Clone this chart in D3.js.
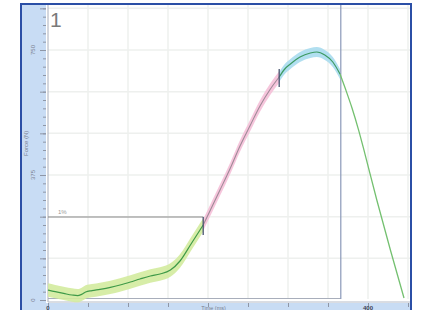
<!DOCTYPE html>
<html lang="en">
<head>
<meta charset="utf-8">
<style>
body { margin: 0; background: #fff; font-family: "Liberation Sans", Arial, sans-serif; }
svg { display: block; }
</style>
<script src="https://cdn.jsdelivr.net/npm/d3@7"></script>
</head>
<body>
<div id="chart"></div>
<script>

// force trace, split in the three phases (time in ms, force in N)
var riseTime  = [0, 9, 21, 30, 37, 42, 47, 55, 65, 78, 90, 103, 115, 128, 140, 153, 165, 178, 190, 194];
var riseForce = [30, 25, 19, 15, 13, 17, 24, 28, 32, 38, 45, 54, 63, 72, 78, 90, 117, 165, 210, 225];

var slopeTime  = [194, 203, 215, 228, 240, 253, 265, 278, 289];
var slopeForce = [225, 270, 330, 396, 462, 525, 582, 633, 669];

var peakTime  = [289, 296, 303, 315, 328, 336, 346, 356, 365];
var peakForce = [669, 693, 708, 729, 741, 744, 735, 714, 678];

var fallTime  = [365, 372, 380, 388, 396, 411, 428, 445];
var fallForce = [678, 632, 576, 512, 440, 300, 150, 6];

var riseSpread = 20, slopeSpread = 17, peakSpread = 15;
var thresholdForce = 249, thresholdLabel = "1%";
var cursorTime = 366;

var forceTicks = [0, 375, 750];
var timeTicks = [0, 400];

var width = 425, height = 310;

var svg = d3.select("#chart").append("svg")
	.attr("width", width)
	.attr("height", height);

var x = d3.scaleLinear().domain([0, 450]).range([48, 408]);
var y = d3.scaleLinear().domain([0, 750]).range([300, 50]);

// frame + side strips
svg.append("rect").attr("x", 22).attr("y", 5).attr("width", 389).attr("height", 310).attr("fill", "#fff");
svg.append("rect").attr("x", 22).attr("y", 5).attr("width", 24).attr("height", 310).attr("fill", "#c8dcf4");
svg.append("rect").attr("x", 22).attr("y", 303).attr("width", 389).attr("height", 10).attr("fill", "#c8dcf4");

// grid
svg.append("g").selectAll("line")
	.data(d3.range(50, 451, 50))
	.enter().append("line")
	.attr("x1", function(d){ return x(d); }).attr("x2", function(d){ return x(d); })
	.attr("y1", 5).attr("y2", 299)
	.attr("stroke", "#eef0ee").attr("stroke-width", 1.5);
svg.append("g").selectAll("line")
	.data(d3.range(125, 876, 125))
	.enter().append("line")
	.attr("x1", 48).attr("x2", 410)
	.attr("y1", function(d){ return y(d); }).attr("y2", function(d){ return y(d); })
	.attr("stroke", "#eef0ee").attr("stroke-width", 1.5);

// y axis ticks in the strip
svg.append("g").attr("transform", "translate(46,0)")
	.call(d3.axisLeft(y).tickValues(d3.range(0, 876, 25)).tickSize(3).tickFormat(""));
svg.append("g").attr("transform", "translate(46,0)")
	.call(d3.axisLeft(y).tickValues(d3.range(0, 876, 125)).tickSize(6).tickFormat(""));
svg.selectAll(".domain").remove();
svg.selectAll(".tick line").attr("stroke", "#8e96a6");

svg.append("g").selectAll("text")
	.data(forceTicks)
	.enter().append("text")
	.attr("transform", function(d){ return "translate(35," + y(d) + ") rotate(-90)"; })
	.attr("text-anchor", "middle")
	.style("font-size", "6px").attr("fill", "#7a8090")
	.text(function(d){ return d; });

svg.append("text")
	.attr("transform", "translate(28," + y(470) + ") rotate(-90)")
	.attr("text-anchor", "middle")
	.style("font-size", "6px").attr("fill", "#7a8090")
	.text("Force (N)");

// x axis
var xa = svg.append("g").attr("transform", "translate(0,303)")
	.call(d3.axisBottom(x).tickValues(d3.range(0, 451, 50)).tickSize(4).tickFormat(""));
xa.select(".domain").remove();
xa.selectAll(".tick line").attr("stroke", "#8e96a6");
svg.append("g").selectAll("text")
	.data(timeTicks)
	.enter().append("text")
	.attr("x", function(d){ return x(d); }).attr("y", 309.5)
	.attr("text-anchor", "middle")
	.style("font-size", "6px").style("font-weight", "bold").attr("fill", "#3a4050")
	.text(function(d){ return d; });
svg.append("text")
	.attr("x", x(207)).attr("y", 309.5)
	.attr("text-anchor", "middle")
	.style("font-size", "5.5px").attr("fill", "#7a8090")
	.text("Time (ms)");

// plot box lines
svg.append("line").attr("x1", 48).attr("x2", 48).attr("y1", 5).attr("y2", 302).attr("stroke", "#a8aebb");
svg.append("line").attr("x1", 48).attr("x2", x(cursorTime)).attr("y1", 298.5).attr("y2", 298.5).attr("stroke", "#a8aebb");
svg.append("line").attr("x1", 48).attr("x2", 411).attr("y1", 302).attr("y2", 302).attr("stroke", "#b4bac6");
svg.append("line").attr("x1", x(cursorTime)).attr("x2", x(cursorTime)).attr("y1", 5).attr("y2", 299)
	.attr("stroke", "#8a98b8").attr("stroke-width", 1.2);

// threshold
svg.append("line")
	.attr("x1", x(0)).attr("x2", x(riseTime[riseTime.length - 1]))
	.attr("y1", y(thresholdForce)).attr("y2", y(thresholdForce))
	.attr("stroke", "#8a8a8a").attr("stroke-width", 1.2);
svg.append("text")
	.attr("x", 58).attr("y", y(thresholdForce) - 3)
	.style("font-size", "6px").attr("fill", "#999")
	.text(thresholdLabel);

function pts(ts, fs) { return ts.map(function(t, i){ return { t: t, f: fs[i] }; }); }

var line = d3.line().curve(d3.curveMonotoneX)
	.x(function(d){ return x(d.t); }).y(function(d){ return y(d.f); });
function band(s) {
	return d3.area().curve(d3.curveMonotoneX)
		.x(function(d){ return x(d.t); })
		.y0(function(d){ return y(d.f - s); })
		.y1(function(d){ return y(d.f + s); });
}

var rise = pts(riseTime, riseForce), slope = pts(slopeTime, slopeForce),
	peak = pts(peakTime, peakForce), fall = pts(fallTime, fallForce);

svg.append("path").datum(rise).attr("d", band(riseSpread)).attr("fill", "#d3eb9e").attr("opacity", 0.9);
svg.append("path").datum(slope).attr("d", band(slopeSpread)).attr("fill", "#f5c0d8").attr("opacity", 0.9);
svg.append("path").datum(peak).attr("d", band(peakSpread)).attr("fill", "#a8dcee").attr("opacity", 0.9);

svg.append("path").datum(fall).attr("d", line).attr("fill", "none").attr("stroke", "#74c070").attr("stroke-width", 1.3);
svg.append("path").datum(rise).attr("d", line).attr("fill", "none").attr("stroke", "#3f9a48").attr("stroke-width", 1.2);
svg.append("path").datum(slope).attr("d", line).attr("fill", "none").attr("stroke", "#a08a98").attr("stroke-width", 1.1);
svg.append("path").datum(peak).attr("d", line).attr("fill", "none").attr("stroke", "#3d9a62").attr("stroke-width", 1.2);

// phase markers
[rise[rise.length - 1], slope[slope.length - 1]].forEach(function(d){
	svg.append("line")
		.attr("x1", x(d.t)).attr("x2", x(d.t))
		.attr("y1", y(d.f) - 8).attr("y2", y(d.f) + 10)
		.attr("stroke", "#4a5570").attr("stroke-width", 1.3);
});

// panel number
svg.append("text").attr("x", 50).attr("y", 27)
	.style("font-size", "21px").attr("fill", "#7a7a7a")
	.text("1");

// outer frame
svg.append("path")
	.attr("d", "M21,320 V4 H411 V320")
	.attr("fill", "none").attr("stroke", "#2b4fa6").attr("stroke-width", 2);

</script>
</body>
</html>
